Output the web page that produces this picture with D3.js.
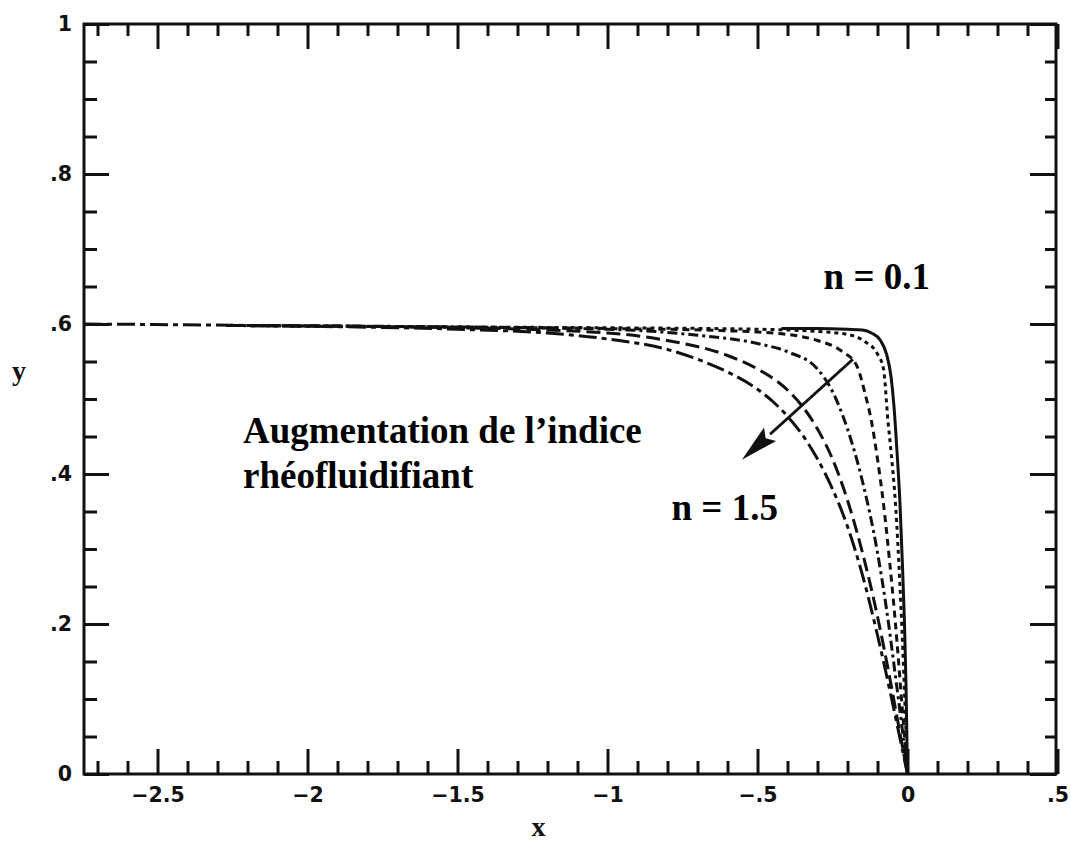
<!DOCTYPE html>
<html>
<head>
<meta charset="utf-8">
<script src="https://cdn.jsdelivr.net/npm/d3@7"></script>
<style>
  html, body { margin: 0; padding: 0; background: #fff; }
  svg { display: block; }
</style>
</head>
<body>
<svg id="chart" width="1071" height="844"></svg>
<script>
// Front profiles y(x) for increasing flow index n (0.1 -> 1.5)
const profileN01 = [[-0.42,0.594],[-0.3,0.594],[-0.2,0.593],[-0.15,0.592],[-0.12,0.588],[-0.09,0.578],[-0.07,0.56],[-0.055,0.53],[-0.045,0.49],[-0.035,0.43],[-0.025,0.36],[-0.017,0.28],[-0.01,0.2],[-0.005,0.12],[0,0]];
const profileN025 = [[-2.27,0.598],[-1.5,0.596],[-1.0,0.595],[-0.5,0.593],[-0.3,0.59],[-0.2,0.586],[-0.14,0.576],[-0.1,0.56],[-0.08,0.54],[-0.065,0.47],[-0.055,0.43],[-0.04,0.36],[-0.025,0.25],[-0.012,0.13],[0,0]];
const profileN05 = [[-2.27,0.598],[-1.5,0.596],[-1.0,0.594],[-0.6,0.591],[-0.4,0.586],[-0.3,0.578],[-0.22,0.564],[-0.17,0.545],[-0.14,0.505],[-0.12,0.47],[-0.1,0.42],[-0.08,0.36],[-0.06,0.285],[-0.04,0.2],[-0.02,0.1],[0,0]];
const profileN075 = [[-2.27,0.598],[-1.5,0.596],[-1.0,0.593],[-0.7,0.585],[-0.5,0.574],[-0.4,0.563],[-0.3,0.54],[-0.25,0.51],[-0.2,0.46],[-0.15,0.39],[-0.1,0.295],[-0.07,0.22],[-0.04,0.13],[-0.02,0.068],[0,0]];
const profileN10 = [[-2.27,0.598],[-1.5,0.595],[-1.0,0.588],[-0.8,0.578],[-0.6,0.558],[-0.5,0.54],[-0.4,0.512],[-0.35,0.49],[-0.3,0.46],[-0.25,0.42],[-0.2,0.365],[-0.15,0.295],[-0.1,0.21],[-0.06,0.13],[-0.03,0.065],[0,0]];
const profileN15 = [[-2.745,0.600],[-2.0,0.597],[-1.5,0.593],[-1.2,0.588],[-1.0,0.58],[-0.8,0.566],[-0.7,0.553],[-0.6,0.536],[-0.5,0.513],[-0.45,0.497],[-0.4,0.477],[-0.35,0.452],[-0.3,0.42],[-0.25,0.38],[-0.2,0.33],[-0.15,0.265],[-0.1,0.185],[-0.05,0.095],[-0.02,0.038],[0,0]];

const xMajorTicks = [-2.5, -2, -1.5, -1, -0.5, 0, 0.5];
const xTickLabels = ["\u22122.5", "\u22122", "\u22121.5", "\u22121", "\u2212.5", "0", ".5"];
const xMinorTicks = [-2.7,-2.6,-2.4,-2.3,-2.2,-2.1,-1.9,-1.8,-1.7,-1.6,-1.4,-1.3,-1.2,-1.1,-0.9,-0.8,-0.7,-0.6,-0.4,-0.3,-0.2,-0.1,0.1,0.2,0.3,0.4];
const yMajorTicks = [0, 0.2, 0.4, 0.6, 0.8, 1];
const yTickLabels = ["0", ".2", ".4", ".6", ".8", "1"];
const yMinorTicks = [0.05,0.1,0.15,0.25,0.3,0.35,0.45,0.5,0.55,0.65,0.7,0.75,0.85,0.9,0.95];

const svg = d3.select("#chart");
const x = d3.scaleLinear().domain([-2.745, 0.495]).range([84, 1056]);
const y = d3.scaleLinear().domain([0, 1]).range([774, 24]);

const ink = "#111";
const tickFont = "'DejaVu Sans', sans-serif";
const serif = "'Liberation Serif', 'Times New Roman', serif";

// curves (drawn first so the frame sits on top)
const series = [
  { data: profileN15,  dash: "18,5,5,5" },
  { data: profileN10,  dash: "14,6" },
  { data: profileN075, dash: "10,4,3,4" },
  { data: profileN05,  dash: "7,5" },
  { data: profileN025, dash: "4,4" },
  { data: profileN01,  dash: null }
];
const line = d3.line().x(d => x(d[0])).y(d => y(d[1])).curve(d3.curveMonotoneX);
svg.append("g").selectAll("path").data(series).join("path")
  .attr("d", d => line(d.data))
  .attr("fill", "none")
  .attr("stroke", ink)
  .attr("stroke-width", 3);

svg.selectAll("path").attr("stroke-dasharray", (d, i) => series[i].dash);

// axes with inward ticks on all four sides
function styleAxis(g) {
  g.select(".domain").remove();
  g.selectAll(".tick line").attr("stroke", ink).attr("stroke-width", 3);
  g.selectAll(".tick text").attr("fill", ink).attr("font-family", tickFont)
    .attr("font-weight", "bold").attr("font-size", 20.5);
}
const H = y(0), T = y(1), L = x.range()[0], R = x.range()[1];

svg.append("g").attr("transform", `translate(0,${H})`)
  .call(d3.axisBottom(x).tickValues(xMajorTicks).tickSize(-25).tickSizeOuter(0).tickPadding(13)
    .tickFormat((d, i) => xTickLabels[i]))
  .call(styleAxis);
svg.append("g").attr("transform", `translate(0,${H})`)
  .call(d3.axisBottom(x).tickValues(xMinorTicks).tickSize(-13).tickSizeOuter(0).tickFormat(""))
  .call(styleAxis);
svg.append("g").attr("transform", `translate(0,${T})`)
  .call(d3.axisTop(x).tickValues(xMajorTicks).tickSize(-25).tickSizeOuter(0).tickFormat(""))
  .call(styleAxis);
svg.append("g").attr("transform", `translate(0,${T})`)
  .call(d3.axisTop(x).tickValues(xMinorTicks).tickSize(-12).tickSizeOuter(0).tickFormat(""))
  .call(styleAxis);

svg.append("g").attr("transform", `translate(${L},0)`)
  .call(d3.axisLeft(y).tickValues(yMajorTicks).tickSize(-25).tickSizeOuter(0).tickPadding(12)
    .tickFormat((d, i) => yTickLabels[i]))
  .call(styleAxis);
svg.append("g").attr("transform", `translate(${L},0)`)
  .call(d3.axisLeft(y).tickValues(yMinorTicks).tickSize(-13).tickSizeOuter(0).tickFormat(""))
  .call(styleAxis);
svg.append("g").attr("transform", `translate(${R},0)`)
  .call(d3.axisRight(y).tickValues(yMajorTicks).tickSize(-26).tickSizeOuter(0).tickFormat(""))
  .call(styleAxis);
svg.append("g").attr("transform", `translate(${R},0)`)
  .call(d3.axisRight(y).tickValues(yMinorTicks).tickSize(-11).tickSizeOuter(0).tickFormat(""))
  .call(styleAxis);

// frame
svg.append("rect").attr("x", L).attr("y", T).attr("width", R - L).attr("height", H - T)
  .attr("fill", "none").attr("stroke", ink).attr("stroke-width", 3);

// axis titles
svg.append("text").attr("x", x(-1.23)).attr("y", 836).attr("text-anchor", "middle")
  .attr("font-family", serif).attr("font-weight", "bold").attr("font-size", 28).attr("fill", ink).text("x");
svg.append("text").attr("x", 19).attr("y", 380).attr("text-anchor", "middle")
  .attr("font-family", serif).attr("font-weight", "bold").attr("font-size", 28).attr("fill", ink).text("y");

// annotations
const note = (xv, yv, anchor, txt) => svg.append("text")
  .attr("x", x(xv)).attr("y", y(yv)).attr("text-anchor", anchor)
  .attr("font-family", serif).attr("font-weight", "bold").attr("font-size", 37)
  .attr("fill", "#000").text(txt);
note(0.075, 0.647, "end", "n = 0.1");
note(-2.215, 0.441, "start", "Augmentation de l\u2019indice");
note(-2.215, 0.381, "start", "rh\u00e9ofluidifiant");
note(-0.432, 0.339, "end", "n = 1.5");

// arrow showing increasing index
const arrowFrom = [-0.182, 0.553], arrowTo = [-0.552, 0.419];
const ax0 = x(arrowFrom[0]), ay0 = y(arrowFrom[1]), ax1 = x(arrowTo[0]), ay1 = y(arrowTo[1]);
const ang = Math.atan2(ay1 - ay0, ax1 - ax0);
const headLen = 38, headHalf = 9;
const bx = ax1 - headLen * Math.cos(ang), by = ay1 - headLen * Math.sin(ang);
svg.append("line").attr("x1", ax0).attr("y1", ay0).attr("x2", bx).attr("y2", by)
  .attr("stroke", ink).attr("stroke-width", 3);
svg.append("path")
  .attr("d", d3.line()([
    [ax1, ay1],
    [bx + headHalf * Math.sin(ang), by - headHalf * Math.cos(ang)],
    [bx + 6 * Math.cos(ang), by + 6 * Math.sin(ang)],
    [bx - headHalf * Math.sin(ang), by + headHalf * Math.cos(ang)]
  ]) + "Z")
  .attr("fill", ink);
</script>
</body>
</html>
